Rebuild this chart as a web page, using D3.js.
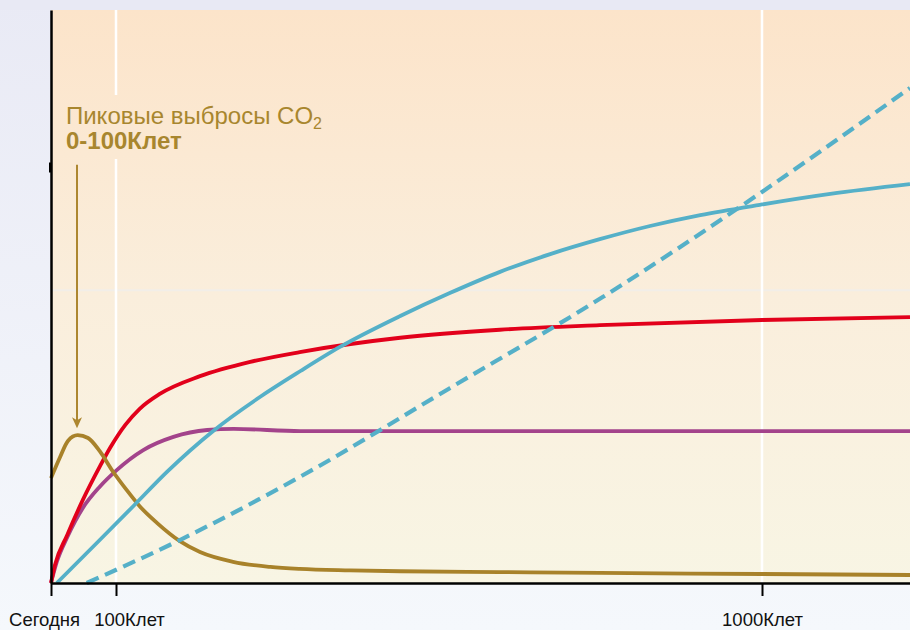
<!DOCTYPE html>
<html>
<head>
<meta charset="utf-8">
<script src="https://cdn.jsdelivr.net/npm/d3@7"></script>
<style>
  html, body { margin: 0; padding: 0; background: #f3f6fb; }
  svg { display: block; font-family: "Liberation Sans", Arial, sans-serif; }
</style>
</head>
<body>
<div id="chart"></div>
<script>
// time axis in thousands of years from today, y in arbitrary units (0-100)
const tickValues = [0, 100, 1000];
const tickLabels = ["Сегодня", "100Клет", "1000Клет"];
const labelShift = [-7, 13, 0];

// CO2 emissions (gold)
const emitK = [0, 14, 26, 41, 57, 75, 95, 115, 133, 157, 189, 217, 263, 315, 356, 426, 496, 635, 774, 1000, 1206];
const emitV = [18.3, 22.0, 24.8, 25.8, 25.3, 23.0, 19.5, 16.2, 13.4, 10.5, 7.3, 5.4, 3.7, 2.8, 2.45, 2.2, 2.05, 1.9, 1.75, 1.57, 1.4];

// red
const redK = [0, 6, 25, 49, 75, 91, 113, 133, 161, 217, 287, 356, 496, 635, 774, 1000, 1206];
const redV = [0, 3.1, 8.4, 14.5, 20.3, 23.6, 27.6, 30.4, 33.0, 36.1, 38.6, 40.3, 42.8, 44.2, 45.0, 45.9, 46.4];

// purple
const purpleK = [0, 9, 25, 49, 75, 101, 138, 180, 227, 264, 357, 1206];
const purpleV = [0, 3.7, 8.0, 13.1, 16.8, 19.7, 23.2, 25.5, 26.7, 26.9, 26.5, 26.5];

// cyan solid
const cyanK = [9, 75, 124, 171, 235, 301, 357, 412, 496, 565, 635, 705, 774, 844, 914, 997, 1095, 1206];
const cyanV = [0, 7.5, 13.4, 19.4, 26.5, 32.5, 37.0, 41.2, 46.6, 50.6, 54.3, 57.4, 60.0, 62.3, 64.2, 66.0, 67.9, 69.6];

// cyan dashed
const dashK = [55, 189, 356, 565, 778, 983, 1206];
const dashV = [0, 7.5, 18.5, 34.0, 49.9, 66.8, 86.4];

const svgWidth = 910, svgHeight = 630;
const plotLeft = 51, plotTop = 10, plotRight = 910, plotBottom = 583;

const x = d3.scaleLinear().domain([0, 100, 1000, 1206]).range([plotLeft, 116, 762, plotRight]);
const y = d3.scaleLinear().domain([0, 100]).range([plotBottom, plotTop]);

const svg = d3.select("#chart").append("svg")
    .attr("width", svgWidth)
    .attr("height", svgHeight);

const defs = svg.append("defs");
const outerGrad = defs.append("linearGradient").attr("id", "outerGrad")
    .attr("x1", 0).attr("y1", 0).attr("x2", 0).attr("y2", 1);
outerGrad.append("stop").attr("offset", "0%").attr("stop-color", "#e9eaf5");
outerGrad.append("stop").attr("offset", "100%").attr("stop-color", "#f5f8fc");

const plotGrad = defs.append("linearGradient").attr("id", "plotGrad")
    .attr("gradientUnits", "userSpaceOnUse")
    .attr("x1", 0).attr("y1", plotTop).attr("x2", 0).attr("y2", plotBottom);
plotGrad.append("stop").attr("offset", "0%").attr("stop-color", "#fce4ca");
plotGrad.append("stop").attr("offset", "50%").attr("stop-color", "#faeedc");
plotGrad.append("stop").attr("offset", "100%").attr("stop-color", "#f8f5e4");

svg.append("rect")
    .attr("width", svgWidth).attr("height", svgHeight)
    .attr("fill", "url(#outerGrad)");
svg.append("rect")
    .attr("width", svgWidth).attr("height", plotTop)
    .attr("fill", "#e8e9f4");
svg.append("rect")
    .attr("x", plotLeft).attr("y", plotTop)
    .attr("width", plotRight - plotLeft).attr("height", plotBottom - plotTop)
    .attr("fill", "url(#plotGrad)");

// faint horizontal grid line
svg.append("line")
    .attr("x1", plotLeft).attr("x2", plotRight)
    .attr("y1", y(51.1)).attr("y2", y(51.1))
    .attr("stroke", "#f2eee8")
    .attr("stroke-width", 2);

// white vertical grid lines
svg.selectAll(".vgrid")
    .data([100, 1000])
    .enter().append("line")
    .attr("class", "vgrid")
    .attr("x1", d => x(d)).attr("x2", d => x(d))
    .attr("y1", plotTop).attr("y2", plotBottom)
    .attr("stroke", "#ffffff")
    .attr("stroke-width", 2.5);

// annotation (knock out grid behind it)
const goldText = "#a8862e";
const ann = svg.append("g").attr("transform", `translate(${x(23)},0)`);
ann.append("rect")
    .attr("x", -6).attr("y", 95)
    .attr("width", 275).attr("height", 64)
    .attr("fill", "url(#plotGrad)");
const t1 = ann.append("text")
    .attr("y", 124)
    .attr("fill", goldText)
    .style("font-size", "24px");
t1.append("tspan").text("Пиковые выбросы CO");
t1.append("tspan").attr("dy", 5).style("font-size", "16px").text("2");
ann.append("text")
    .attr("y", 149)
    .attr("fill", goldText)
    .style("font-size", "24px")
    .style("font-weight", "bold")
    .text("0-100Клет");

// arrow
const ax = x(40);
svg.append("line")
    .attr("x1", ax).attr("x2", ax)
    .attr("y1", y(73)).attr("y2", y(27.5))
    .attr("stroke", "#ad8730")
    .attr("stroke-width", 2);
svg.append("path")
    .attr("d", `M${ax - 5},${y(27) - 11} L${ax},${y(27)} L${ax + 5},${y(27) - 11} L${ax},${y(27) - 8} Z`)
    .attr("fill", "#ad8730");

const line = d3.line()
    .x(d => x(d[0]))
    .y(d => y(d[1]))
    .curve(d3.curveMonotoneX);

const series = [
    { k: purpleK, v: purpleV, color: "#a3438b", dash: null },
    { k: redK, v: redV, color: "#e2001b", dash: null },
    { k: emitK, v: emitV, color: "#a8822a", dash: null },
    { k: cyanK, v: cyanV, color: "#55b0c8", dash: null },
    { k: dashK, v: dashV, color: "#55b0c8", dash: "13,7" }
];

series.forEach(s => {
    svg.append("path")
        .datum(d3.zip(s.k, s.v))
        .attr("fill", "none")
        .attr("stroke", s.color)
        .attr("stroke-width", s.dash ? 4.2 : 3.8)
        .attr("stroke-dasharray", s.dash)
        .attr("d", line);
});

// axes
const xAxis = d3.axisBottom(x)
    .tickValues(tickValues)
    .tickFormat((d, i) => tickLabels[i])
    .tickSize(13)
    .tickSizeOuter(0)
    .tickPadding(17);

const gx = svg.append("g")
    .attr("transform", `translate(0,${plotBottom})`)
    .call(xAxis);
gx.select(".domain").attr("stroke", "#000").attr("stroke-width", 2.5);
gx.selectAll(".tick line").attr("stroke", "#000").attr("stroke-width", 2);
gx.selectAll(".tick text")
    .attr("fill", "#111")
    .attr("dx", (d, i) => labelShift[i])
    .style("font-size", "18.5px")
    .style("font-family", "'Liberation Sans', Arial, sans-serif");

const yAxis = d3.axisLeft(y)
    .tickValues([72.6])
    .tickFormat("")
    .tickSize(2)
    .tickSizeOuter(0);
const gy = svg.append("g")
    .attr("transform", `translate(${plotLeft},0)`)
    .call(yAxis);
gy.select(".domain").attr("stroke", "#000").attr("stroke-width", 2.5);
gy.selectAll(".tick line").attr("stroke", "#000").attr("stroke-width", 10);
</script>
</body>
</html>
